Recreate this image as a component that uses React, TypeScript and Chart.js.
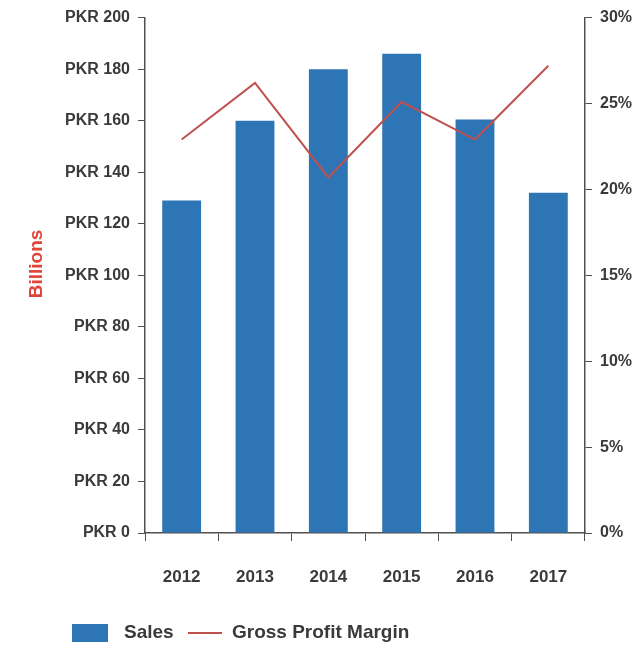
import React, { useEffect, useRef } from "react";
import { Chart, registerables } from "chart.js";

Chart.register(...registerables);

const years = ["2012", "2013", "2014", "2015", "2016", "2017"];
const sales = [129, 160, 180, 186, 160.5, 132];
const grossMargin = [22.9, 26.2, 20.7, 25.1, 22.9, 27.2];
const leftTicks = [0, 20, 40, 60, 80, 100, 120, 140, 160, 180, 200];
const rightTicks = [0, 5, 10, 15, 20, 25, 30];
const salesLabel = "Sales";
const marginLabel = "Gross Profit Margin";
const axisTitle = "Billions";

const BAR_COLOR = "#2e75b6";
const LINE_COLOR = "#c0504d";
const TEXT_COLOR = "#3a3a3a";
const AXIS_COLOR = "#505050";
const FONT = "'Liberation Sans', Arial, sans-serif";

const extrasPlugin = {
  id: "extras",
  afterDraw(chart: any) {
    const ctx = chart.ctx;
    ctx.save();
    // y axis title
    ctx.translate(37, 264);
    ctx.rotate(-Math.PI / 2);
    ctx.fillStyle = "#e0453a";
    ctx.font = `bold 19px ${FONT}`;
    ctx.textAlign = "center";
    ctx.textBaseline = "middle";
    ctx.fillText(axisTitle, 0, 0);
    ctx.restore();

    // legend
    ctx.save();
    const cy = 633;
    ctx.fillStyle = BAR_COLOR;
    ctx.fillRect(72, cy - 9, 36, 18);
    ctx.font = `bold 19px ${FONT}`;
    ctx.fillStyle = TEXT_COLOR;
    ctx.textBaseline = "middle";
    ctx.textAlign = "left";
    ctx.fillText(salesLabel, 124, cy);
    ctx.strokeStyle = LINE_COLOR;
    ctx.lineWidth = 2;
    ctx.beginPath();
    ctx.moveTo(188, cy);
    ctx.lineTo(222, cy);
    ctx.stroke();
    ctx.fillText(marginLabel, 232, cy);
    ctx.restore();
  },
};

export default function App() {
  const ref = useRef<HTMLCanvasElement | null>(null);
  useEffect(() => {
    if (!ref.current) return;
    const tickFont = { family: FONT, size: 16, weight: "bold" as const };
    const chart = new Chart(ref.current, {
      type: "bar",
      data: {
        labels: years,
        datasets: [
          {
            type: "line",
            label: marginLabel,
            data: grossMargin,
            borderColor: LINE_COLOR,
            backgroundColor: LINE_COLOR,
            borderWidth: 2,
            pointRadius: 0,
            tension: 0,
            yAxisID: "y1",
            order: 0,
          } as any,
          {
            type: "bar",
            label: salesLabel,
            data: sales,
            backgroundColor: BAR_COLOR,
            borderWidth: 0,
            categoryPercentage: 1,
            barPercentage: 0.53,
            yAxisID: "y",
            order: 1,
          },
        ],
      },
      options: {
        responsive: false,
        animation: false,
        layout: { padding: { top: 15, left: 0, right: 0, bottom: 0 } },
        plugins: {
          legend: { display: false },
          tooltip: { enabled: false },
        },
        scales: {
          x: {
            offset: true,
            grid: {
              offset: true,
              drawOnChartArea: false,
              drawTicks: true,
              tickLength: 8,
              color: AXIS_COLOR,
            },
            border: { display: true, color: AXIS_COLOR, width: 1.5 },
            ticks: { font: { family: FONT, size: 17, weight: "bold" as const }, color: TEXT_COLOR, padding: 26, maxRotation: 0 },
            afterFit(scale: any) {
              scale.height = 119;
            },
          },
          y: {
            position: "left",
            min: 0,
            max: 200,
            afterBuildTicks(scale: any) {
              scale.ticks = leftTicks.map((v) => ({ value: v }));
            },
            grid: {
              drawOnChartArea: false,
              drawTicks: true,
              tickLength: 7,
              color: AXIS_COLOR,
            },
            border: { display: true, color: AXIS_COLOR, width: 1.5 },
            ticks: {
              font: tickFont,
              color: TEXT_COLOR,
              padding: 8,
              callback: (v: any) => "PKR " + v,
            },
            afterFit(scale: any) {
              scale.width = 145;
            },
          },
          y1: {
            position: "right",
            min: 0,
            max: 30,
            afterBuildTicks(scale: any) {
              scale.ticks = rightTicks.map((v) => ({ value: v }));
            },
            grid: {
              drawOnChartArea: false,
              drawTicks: true,
              tickLength: 7,
              color: AXIS_COLOR,
            },
            border: { display: true, color: AXIS_COLOR, width: 1.5 },
            ticks: {
              font: tickFont,
              color: TEXT_COLOR,
              padding: 8,
              callback: (v: any) => v + "%",
            },
            afterFit(scale: any) {
              scale.width = 53;
            },
          },
        },
      },
      plugins: [extrasPlugin],
    });
    return () => chart.destroy();
  }, []);

  return (
    <div style={{ position: "fixed", left: 0, top: 0, width: 638, height: 652, background: "#fff" }}>
      <canvas ref={ref} width={638} height={652} style={{ display: "block" }} />
    </div>
  );
}
